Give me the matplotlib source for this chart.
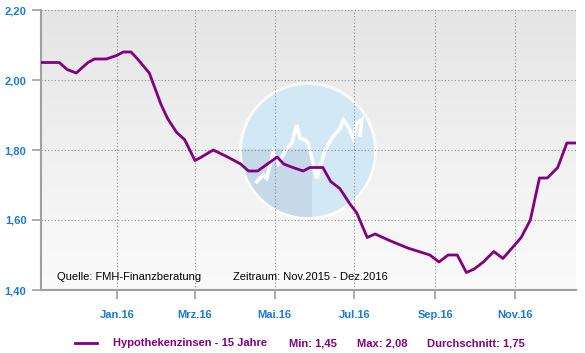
import matplotlib
matplotlib.use('Agg')
import matplotlib.pyplot as plt
from matplotlib.patches import Circle, Rectangle
from matplotlib.lines import Line2D
from matplotlib.transforms import Affine2D
from matplotlib.colors import LinearSegmentedColormap
import numpy as np
import pandas as pd

# ---- data ----
dates = ['2015-11-04', '2015-11-18', '2015-11-24', '2015-12-01', '2015-12-10', '2015-12-15',
         '2015-12-24', '2016-01-01', '2016-01-06', '2016-01-12', '2016-01-17', '2016-01-26',
         '2016-01-31', '2016-02-04', '2016-02-09', '2016-02-16', '2016-02-22', '2016-03-01',
         '2016-03-06', '2016-03-15', '2016-03-26', '2016-04-05', '2016-04-11', '2016-04-18',
         '2016-05-03', '2016-05-08', '2016-05-15', '2016-05-23', '2016-05-28', '2016-06-07',
         '2016-06-13', '2016-06-20', '2016-06-27', '2016-07-03', '2016-07-11', '2016-07-17',
         '2016-07-29', '2016-08-11', '2016-08-28', '2016-09-04', '2016-09-11', '2016-09-18',
         '2016-09-25', '2016-10-01', '2016-10-08', '2016-10-16', '2016-10-23', '2016-10-30',
         '2016-11-06', '2016-11-13', '2016-11-20', '2016-11-26', '2016-12-04', '2016-12-11',
         '2016-12-18']
values = [2.05, 2.05, 2.03, 2.02, 2.05, 2.06,
          2.06, 2.07, 2.08, 2.08, 2.06, 2.02,
          1.97, 1.93, 1.89, 1.85, 1.83, 1.77,
          1.78, 1.80, 1.78, 1.76, 1.74, 1.74,
          1.78, 1.76, 1.75, 1.74, 1.75, 1.75,
          1.71, 1.69, 1.65, 1.62, 1.55, 1.56,
          1.54, 1.52, 1.50, 1.48, 1.50, 1.50,
          1.45, 1.46, 1.48, 1.51, 1.49, 1.52,
          1.55, 1.60, 1.72, 1.72, 1.75, 1.82,
          1.82]

xtick_dates = ['2016-01-01', '2016-03-01', '2016-05-01', '2016-07-01', '2016-09-01', '2016-11-01']
xtick_labels = ['Jan.16', 'Mrz.16', 'Mai.16', 'Jul.16', 'Sep.16', 'Nov.16']
yticks = [1.40, 1.60, 1.80, 2.00, 2.20]
ytick_labels = ['1,40', '1,60', '1,80', '2,00', '2,20']
series_name = 'Hypothekenzinsen - 15 Jahre'
stat_labels = ['Min: 1,45', 'Max: 2,08', 'Durchschnitt: 1,75']
source_text = 'Quelle: FMH-Finanzberatung'
period_text = 'Zeitraum: Nov.2015 - Dez.2016'
x_start, x_end = '2015-11-04', '2016-12-18'

# ---- style ----
plt.rcParams['font.family'] = ['Liberation Sans', 'DejaVu Sans']
PURPLE = '#800080'
BLUE = '#1a7ad4'
GRID = '#8c8c8c'
AXIS = '#a0a0a0'

W, H = 585, 353
fig = plt.figure(figsize=(W / 100, H / 100), dpi=100)
fig.patch.set_facecolor('white')
L, R, T, B = 41, 576, 10, 290
ax = fig.add_axes([L / W, 1 - B / H, (R - L) / W, (B - T) / H])
px = Affine2D().scale(1 / W, -1 / H).translate(0, 1) + fig.transFigure

x = pd.to_datetime(dates)
ax.set_xlim(pd.Timestamp(x_start), pd.Timestamp(x_end))
ax.set_ylim(yticks[0], yticks[-1])

# background gradient
grad = np.linspace(0, 1, 256).reshape(-1, 1)
cmap = LinearSegmentedColormap.from_list('bg', ['#fbfbfb', '#e5e5e5'])
ax.imshow(grad, aspect='auto', cmap=cmap, origin='lower', extent=[0, 1, 0, 1],
          transform=ax.transAxes, zorder=0)
ax.set_facecolor('white')

# decorative logo (globe watermark)
cx, cy, r = 308, 151, 66
glow = Circle((cx, cy), r + 3, transform=px, facecolor='white', edgecolor='none', alpha=0.75, zorder=0.6)
ax.add_patch(glow)
globe = Circle((cx, cy), r, transform=px, facecolor='#d0e8f5', edgecolor='none', alpha=0.95, zorder=0.7)
ax.add_patch(globe)
shade = Rectangle((cx - r - 2, 149), 72, 80, transform=px, facecolor='#c5d8e8', edgecolor='none',
                  alpha=0.9, zorder=0.75)
shade.set_clip_path(globe)
ax.add_patch(shade)
zig = [(256.7, 181.7), (263.3, 175), (266.7, 178.3), (273.3, 151.7), (278.3, 163.3), (286.7, 148.3),
       (291.7, 143.3), (296.7, 125), (300, 138.3), (305, 140), (308.3, 143.3), (316.7, 178.3),
       (325, 150), (331.7, 138.3), (340, 128.3), (343.3, 120), (348.3, 126.7), (353.3, 138.3),
       (356.7, 123.3), (361.7, 120), (360, 135)]
zx, zy = zip(*zig)
ax.plot(zx, zy, transform=px, color='white', lw=2.6, solid_joinstyle='miter', zorder=0.8)

# grid
ax.set_axisbelow('line')
ax.grid(True, color=GRID, linestyle=(0, (1, 2)), linewidth=0.8)

# data line
ax.plot(x, values, color=PURPLE, lw=2.0, zorder=3, solid_joinstyle='round')

# axes and ticks
for s in ['top', 'right']:
    ax.spines[s].set_visible(False)
for s in ['left', 'bottom']:
    ax.spines[s].set_color(AXIS)
    ax.spines[s].set_linewidth(1.5)
ax.set_xticks(pd.to_datetime(xtick_dates))
ax.set_xticklabels(xtick_labels)
ax.set_yticks(yticks)
ax.set_yticklabels(ytick_labels)
ax.tick_params(axis='both', colors=AXIS, labelcolor=BLUE, width=1.2, length=6.5, direction='out')
ax.tick_params(axis='x', pad=8)
ax.tick_params(axis='y', pad=4)
for lab in ax.get_xticklabels() + ax.get_yticklabels():
    lab.set_fontweight('bold')
    lab.set_fontsize(8)

# annotations inside plot
fig.text(57 / W, 1 - 277 / H, source_text, fontsize=8, color='black', va='center', ha='left')
fig.text(233 / W, 1 - 277 / H, period_text, fontsize=8, color='black', va='center', ha='left')

# legend row
ly = 1 - 343 / H
fig.add_artist(Line2D([75 / W, 97 / W], [ly, ly], color=PURPLE, lw=2.0, transform=fig.transFigure))
fig.text(113 / W, ly, series_name, fontsize=8, color=PURPLE, fontweight='bold', va='center', ha='left')
for xp, t in zip([289, 357, 427], stat_labels):
    fig.text(xp / W, ly, t, fontsize=8, color=PURPLE, fontweight='bold', va='center', ha='left')

fig.savefig('out.png', dpi=100)
